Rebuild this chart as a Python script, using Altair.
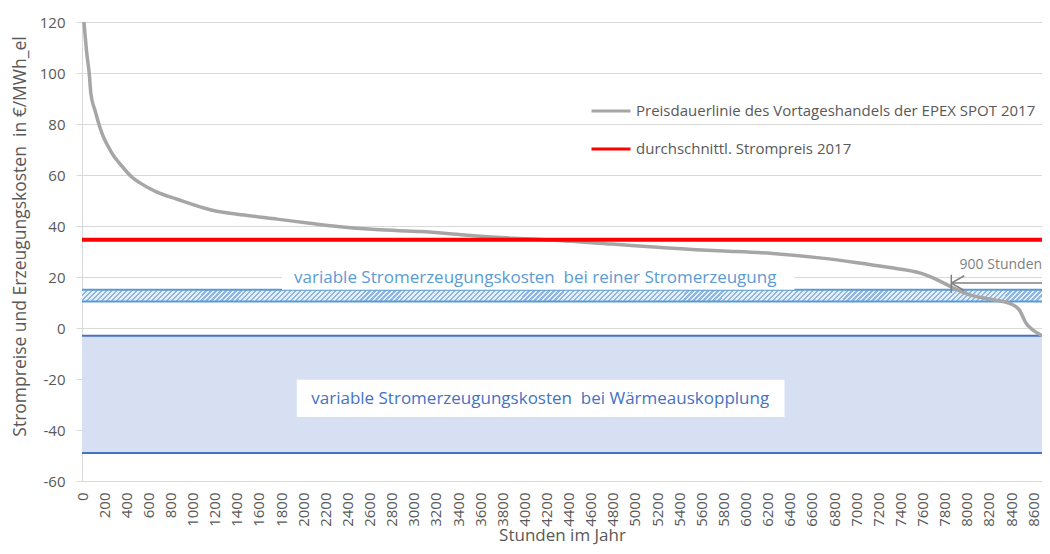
import altair as alt
import pandas as pd

# ---- data ----
hours = [0, 45, 65, 80, 120, 175, 265, 370, 455, 520, 668, 860, 1167, 1467, 1764,
         2058, 2269, 2655, 3071, 3457, 3902, 4197, 4793, 5238, 5600, 5800, 6245,
         6690, 6993, 7288, 7582, 7733, 7881, 8027, 8238, 8416, 8473, 8535, 8595, 8680]
prices = [130, 107, 100, 92, 85, 77, 69, 63, 59, 57, 53.5, 50.5, 46.3, 44.3, 42.7,
          41.1, 40.0, 38.6, 37.8, 36.5, 35.2, 34.6, 32.9, 31.6, 30.6, 30.2, 29.2,
          27.4, 25.7, 23.8, 21.5, 18.9, 15.7, 13.0, 11.1, 9.1, 7.2, 2.0, -0.7, -3.0]

series_names = ["Preisdauerlinie des Vortageshandels der EPEX SPOT 2017",
                "durchschnittl. Strompreis 2017"]
avg_hours = [0, 8760]
avg_price = [34.6, 34.6]

x_ticks = list(range(0, 8601, 200))
y_ticks = list(range(-60, 121, 20))

# bands: [y_low, y_high]
band_upper = [10.4, 15.0]
band_lower = [-49.0, -3.0]
band_x = [0, 8760]

band_texts = ["variable Stromerzeugungskosten\u00a0 bei reiner Stromerzeugung",
              "variable Stromerzeugungskosten\u00a0 bei Wärmeauskopplung"]
band_text_x = [4098, 4143]
band_text_y = [19.7, -27.9]
box_x1 = [1808, 1942]
box_x2 = [6441, 6352]
box_y1 = [15.0, -34.9]
box_y2 = [23.8, -20.3]

ann_text = ["900 Stunden"]
ann_x = [7935]
ann_y = [24.6]
# arrow segments: x, x2, y, y2
arrow_x1 = [7860, 7860, 7860, 7860]
arrow_x2 = [8760, 7860, 7977, 7977]
arrow_y1 = [17.6, 13.8, 17.6, 17.6]
arrow_y2 = [17.6, 20.9, 20.5, 14.7]

# ---- helpers ----
FONT = "Open Sans"
GREY_TXT = "#595959"
xs = alt.Scale(domain=[0, 8680], nice=False, zero=False)
ys = alt.Scale(domain=[-60, 120], nice=False, zero=False)

x_axis = alt.Axis(values=x_ticks, grid=False, ticks=False, domainColor="#d9d9d9",
                  format="d", labelAngle=270, labelPadding=11, labelFontSize=15,
                  labelColor=GREY_TXT,
                  labelOverlap=False, labelFlush=False, labelBound=False,
                  titleFontSize=17, titleColor=GREY_TXT, titleFontWeight="normal",
                  titleX=480, titleY=54, titleBaseline="middle", titleAlign="center")
y_axis = alt.Axis(values=y_ticks, grid=True, gridColor="#d9d9d9", domainColor="#d9d9d9",
                  tickColor="#d9d9d9", tickSize=6, labelPadding=11, labelFontSize=15,
                  labelExpr="replace(datum.label, '\u2212', '-')",
                  labelColor=GREY_TXT, titleFontSize=17.5, titleColor=GREY_TXT,
                  titleFontWeight="normal", titleX=-62, titleY=214,
                  titleAlign="center", titleBaseline="middle")
X_TITLE = "Stunden im Jahr"
Y_TITLE = "Strompreise und Erzeugungskosten\u00a0 in €/MWh_el"


def X(f):
    return alt.X(f, type="quantitative", scale=xs, axis=x_axis, title=X_TITLE)


def Y(f):
    return alt.Y(f, type="quantitative", scale=ys, axis=y_axis, title=Y_TITLE)


# ---- tables ----
curve_df = pd.DataFrame({"h": hours, "p": prices, "series": series_names[0]})
avg_df = pd.DataFrame({"h": avg_hours, "p": avg_price, "series": series_names[1]})
band_df = pd.DataFrame({"x1": [band_x[0]], "x2": [band_x[1]],
                        "lo_u": [band_upper[0]], "hi_u": [band_upper[1]],
                        "lo_l": [band_lower[0]], "hi_l": [band_lower[1]]})
edge_u_df = pd.DataFrame({"x1": band_x[0], "x2": band_x[1], "y": band_upper})
edge_l_df = pd.DataFrame({"x1": band_x[0], "x2": band_x[1], "y": band_lower})
box_df = pd.DataFrame({"x1": box_x1, "x2": box_x2, "y1": box_y1, "y2": box_y2})
txt_df = pd.DataFrame({"x": band_text_x, "y": band_text_y, "t": band_texts,
                       "c": ["#5b9bd5", "#4472c4"]})
ann_df = pd.DataFrame({"x": ann_x, "y": ann_y, "t": ann_text})
arrow_df = pd.DataFrame({"x1": arrow_x1, "x2": arrow_x2, "y1": arrow_y1, "y2": arrow_y2})

# hatch pattern for the upper band, emulated with a striped linear gradient
W_px, H_px = 969.0, 11.7
n_stripes = 195
stops = []
for i in range(n_stripes):
    b = i / n_stripes
    m = (i + 0.45) / n_stripes
    e = (i + 1) / n_stripes
    stops += [{"offset": round(b, 5), "color": "#8db6e4"},
              {"offset": round(m, 5), "color": "#8db6e4"},
              {"offset": round(m, 5), "color": "#e6effa"},
              {"offset": round(e, 5), "color": "#e6effa"}]
hatch = {"gradient": "linear", "x1": 0, "y1": 0, "x2": 1, "y2": round(H_px / W_px, 5),
         "stops": stops}

# ---- layers ----
lower_band = alt.Chart(band_df).mark_rect(color="#d6e0f2", clip=True).encode(
    x=X("x1"), x2="x2", y=Y("lo_l"), y2="hi_l")
upper_band = alt.Chart(band_df).mark_rect(fill=hatch, clip=True).encode(
    x=X("x1"), x2="x2", y=Y("lo_u"), y2="hi_u")
edge_u = alt.Chart(edge_u_df).mark_rule(color="#5b9bd5", strokeWidth=2, clip=True).encode(
    x=X("x1"), x2="x2", y=Y("y"))
edge_l = alt.Chart(edge_l_df).mark_rule(color="#4472c4", strokeWidth=2, clip=True).encode(
    x=X("x1"), x2="x2", y=Y("y"))
boxes = alt.Chart(box_df).mark_rect(color="white").encode(
    x=X("x1"), x2="x2", y=Y("y1"), y2="y2")
texts = alt.Chart(txt_df).mark_text(font=FONT, fontSize=17, align="center",
                                    baseline="middle").encode(
    x=X("x"), y=Y("y"), text="t:N", color=alt.Color("c:N", scale=None))

color_enc = alt.Color("series:N",
                      scale=alt.Scale(domain=series_names, range=["#a6a6a6", "#ff0000"]),
                      legend=alt.Legend(title=None, orient="none", legendX=508, legendY=68,
                                        symbolType="stroke", symbolSize=1521,
                                        symbolStrokeWidth=3, labelFontSize=15,
                                        labelColor=GREY_TXT, labelFont=FONT, labelLimit=700,
                                        labelOffset=4, rowPadding=9, padding=0))
curve = alt.Chart(curve_df).mark_line(strokeWidth=3.5, clip=True, interpolate="monotone").encode(
    x=X("h"), y=Y("p"), color=color_enc)
avg = alt.Chart(avg_df).mark_line(strokeWidth=4, clip=True).encode(
    x=X("h"), y=Y("p"), color=color_enc)
arrow = alt.Chart(arrow_df).mark_rule(color="#808080", strokeWidth=1.5, clip=True).encode(
    x=X("x1"), x2="x2", y=Y("y1"), y2="y2")
ann = alt.Chart(ann_df).mark_text(font=FONT, fontSize=14, align="left", baseline="middle",
                                  color="#7f7f7f").encode(
    x=X("x"), y=Y("y"), text="t:N")

chart = alt.layer(lower_band, upper_band, edge_u, edge_l, boxes, texts, curve, avg, arrow, ann
                  ).properties(
    width=960, height=459,
    autosize=alt.AutoSizeParams(type="none"),
    padding={"left": 74, "top": 14, "right": 0, "bottom": 65},
).configure(font=FONT).configure_view(stroke=None)

chart.save("out.html", embed_options={"renderer": "svg", "actions": False})
